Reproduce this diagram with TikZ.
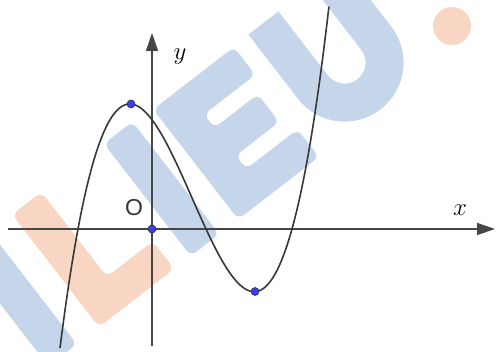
\documentclass[tikz,border=0pt]{standalone}
\usepackage{fontspec}
\newfontfamily\labelsans{Liberation Sans}
\usetikzlibrary{arrows.meta}
\definecolor{wmblue}{RGB}{198,214,234}
\definecolor{wmorange}{RGB}{249,214,195}
\definecolor{axisgray}{RGB}{70,70,70}
\definecolor{curvegray}{RGB}{55,55,55}
\definecolor{ptblue}{RGB}{60,60,240}
\tikzset{
  wm/.style={rounded corners=7pt},
  axisline/.style={draw=axisgray, line width=1.5pt, -{Triangle[length=18pt,width=12pt]}},
  graphline/.style={draw=curvegray, line width=1.6pt},
  ptdot/.style={circle, fill=ptblue, draw=black!80, line width=0.6pt, inner sep=0pt, minimum size=8pt},
  axislabel/.style={inner sep=0pt, font=\fontsize{28}{28}\selectfont},
  originlabel/.style={inner sep=0pt, text=black!80, font=\labelsans\fontsize{23}{23}\selectfont}
}
\begin{document}
\begin{tikzpicture}[x=1pt,y=1pt]
\useasboundingbox (0,0) rectangle (496,352);
\begin{scope}
\clip (0,0) rectangle (496,352);
% watermark
\begin{scope}[shift={(99,25)}, rotate=37.7]
  \fill[wmblue, wm] (-64,0) rectangle (-28,140);
  \fill[wmorange, wm] (0,0) -- (95,0) -- (95,35) -- (37,35) -- (37,142) -- (0,142) -- cycle;
  \fill[wmblue, wm] (116,0) rectangle (152,142);
  \fill[wmblue, wm] (176,0) -- (278,0) -- (278,35) -- (213,35) -- (213,52) -- (268,52) -- (268,87) -- (213,87) -- (213,104) -- (278,104) -- (278,139) -- (176,139) -- cycle;
  \fill[wmblue] (297,140) -- (297,59) arc[start angle=180, end angle=360, radius=59] -- (415,140) -- (377,140) -- (377,59) arc[start angle=0, end angle=-180, radius=21] -- (335,140) -- cycle;
\end{scope}
\fill[wmorange] (452,326) circle[radius=19];
\end{scope}
% axes
\coordinate (xs) at (8,123);
\coordinate (xe) at (495,123);
\coordinate (ys) at (152,6);
\coordinate (ye) at (152,319);
\draw[axisline] (xs) -- (xe);
\draw[axisline] (ys) -- (ye);
\node[axislabel] (xl) at (460,142) {$x$};
\node[axislabel] (yl) at (180,295) {$y$};
\node[originlabel] (ol) at (134,144) {O};
% curve
\draw[graphline, domain=-0.92:1.77, samples=120, smooth] plot ({152+100*\x}, {123+195.3*(\x+0.74)*(\x-0.54)*(\x-1.40)});
\node[ptdot] (o) at (152,123) {};
\node[ptdot] (mx) at (131,248) {};
\node[ptdot] (mn) at (255,60.5) {};
\end{tikzpicture}
\end{document}
